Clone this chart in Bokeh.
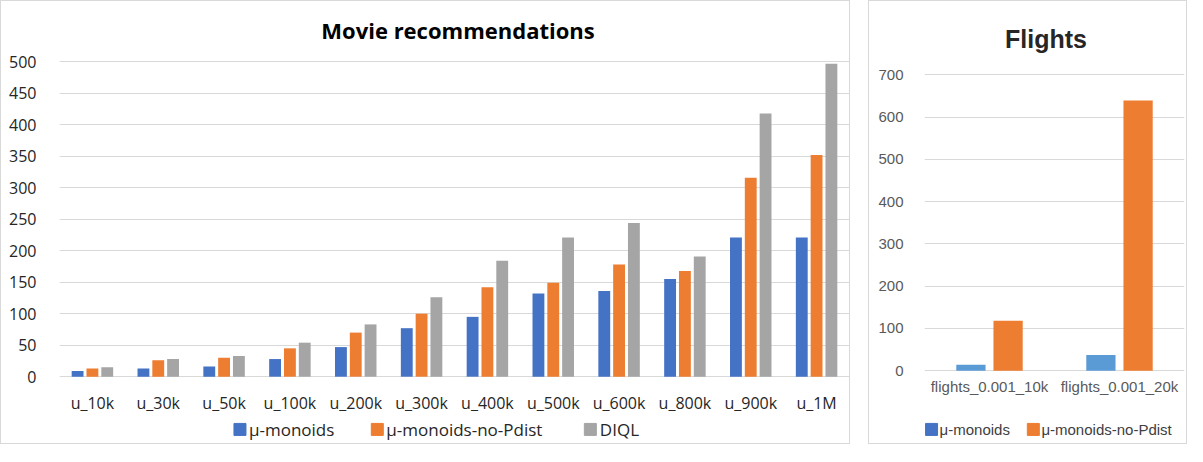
from bokeh.plotting import figure
from bokeh.models import FactorRange, Range1d, ColumnDataSource, Spacer
from bokeh.transform import dodge
from bokeh.layouts import row
from bokeh.core.properties import value
from bokeh.embed import file_html
from bokeh.resources import INLINE

# ---- data: Movie recommendations ----
movie_cats = ["u_10k", "u_30k", "u_50k", "u_100k", "u_200k", "u_300k",
              "u_400k", "u_500k", "u_600k", "u_800k", "u_900k", "u_1M"]
movie_mu = [9, 13, 16, 28, 47, 77, 95, 132, 136, 155, 221, 221]
movie_mu_nopdist = [13, 26, 30, 45, 70, 100, 142, 149, 178, 168, 316, 352]
movie_diql = [15, 28, 33, 54, 83, 126, 184, 221, 244, 191, 418, 497]
movie_series = ["μ-monoids", "μ-monoids-no-Pdist", "DIQL"]
movie_yticks = [0, 50, 100, 150, 200, 250, 300, 350, 400, 450, 500]

# ---- data: Flights ----
flight_cats = ["flights_0.001_10k", "flights_0.001_20k"]
flight_mu = [14, 37]
flight_mu_nopdist = [118, 639]
flight_series = ["μ-monoids", "μ-monoids-no-Pdist"]
flight_yticks = [0, 100, 200, 300, 400, 500, 600, 700]

BLUE = "#4472C4"
LBLUE = "#5B9BD5"
ORANGE = "#ED7D31"
GRAY = "#A5A5A5"
GRID = "#d9d9d9"
BORDER = {"border": "1px solid #d9d9d9"}

H = 444          # host height (border included)
CH = H - 2       # canvas height inside the border

# ================= Movie recommendations =================
W1 = 850
CW1 = W1 - 2
F1_L, F1_R = 58, 846               # frame left / right (canvas px)
Y1_TOP_PX, Y1_ZERO_PX = 60, 373.5  # canvas px of y=500 and y=0
per1 = (Y1_ZERO_PX - Y1_TOP_PX) / 500.0
def fy1(px):
    return (Y1_ZERO_PX - px) / per1
def fx1(px):
    return (px - F1_L) / ((F1_R - F1_L) / len(movie_cats))

p1 = figure(x_range=FactorRange(factors=movie_cats),
            y_range=Range1d(fy1(CH), fy1(0)),
            width=W1, height=H, title=None, x_axis_location=None,
            output_backend="svg", toolbar_location=None,
            min_border=0, min_border_left=F1_L, min_border_right=CW1 - F1_R)
p1.styles = BORDER
src1 = ColumnDataSource(dict(cat=movie_cats, mu=movie_mu, nop=movie_mu_nopdist, diql=movie_diql))
p1.vbar(x=dodge("cat", -0.225, range=p1.x_range), top="mu", width=0.18, source=src1,
        fill_color=BLUE, line_color=None)
p1.vbar(x=dodge("cat", 0.0, range=p1.x_range), top="nop", width=0.18, source=src1,
        fill_color=ORANGE, line_color=None)
p1.vbar(x=dodge("cat", 0.225, range=p1.x_range), top="diql", width=0.18, source=src1,
        fill_color=GRAY, line_color=None)

p1.outline_line_color = None
p1.xgrid.visible = False
p1.ygrid.grid_line_color = GRID
p1.yaxis.ticker = movie_yticks
p1.yaxis.axis_line_color = None
p1.yaxis.major_tick_line_color = None
p1.yaxis.minor_tick_line_color = None
p1.yaxis.major_label_standoff = 17
p1.yaxis.major_label_text_font = "Open Sans"
p1.yaxis.major_label_text_font_size = "16px"
p1.yaxis.major_label_text_color = "#262626"

# title
p1.text(x=[fx1(455.5)], y=[fy1(28)], text=["Movie recommendations"],
        text_font=value("Open Sans"), text_font_style="bold", text_font_size="22px",
        text_align="center", text_baseline="middle", text_color="#000000")
# category labels
p1.text(x=movie_cats, y=[fy1(399.5)] * len(movie_cats), text=movie_cats,
        text_font=value("Open Sans"), text_font_size="16px",
        text_align="center", text_baseline="middle", text_color="#262626")
# legend
leg1_y = fy1(426)
p1.scatter(x=[fx1(v) for v in (238, 375, 587.5)], y=[leg1_y] * 3, marker="square", size=12,
           color=[BLUE, ORANGE, GRAY])
p1.text(x=[fx1(v) for v in (247, 384, 597)], y=[leg1_y] * 3, text=movie_series,
        text_font=value("Open Sans"), text_font_size="17px",
        text_align="left", text_baseline="middle", text_color="#262626")

# ================= Flights =================
W2 = 319
CW2 = W2 - 2
F2_L, F2_R = 55, 313
Y2_TOP_PX, Y2_ZERO_PX = 73, 367.5   # canvas px of y=700 and y=0
per2 = (Y2_ZERO_PX - Y2_TOP_PX) / 700.0
def fy2(px):
    return (Y2_ZERO_PX - px) / per2
def fx2(px):
    return (px - F2_L) / ((F2_R - F2_L) / len(flight_cats))

p2 = figure(x_range=FactorRange(factors=flight_cats),
            y_range=Range1d(fy2(CH), fy2(0)),
            width=W2, height=H, title=None, x_axis_location=None,
            output_backend="svg", toolbar_location=None,
            min_border=0, min_border_left=F2_L, min_border_right=CW2 - F2_R)
p2.styles = BORDER
src2 = ColumnDataSource(dict(cat=flight_cats, mu=flight_mu, nop=flight_mu_nopdist))
p2.vbar(x=dodge("cat", -0.143, range=p2.x_range), top="mu", width=0.225, source=src2,
        fill_color=LBLUE, line_color=None)
p2.vbar(x=dodge("cat", 0.143, range=p2.x_range), top="nop", width=0.225, source=src2,
        fill_color=ORANGE, line_color=None)

p2.outline_line_color = None
p2.xgrid.visible = False
p2.ygrid.grid_line_color = GRID
p2.yaxis.ticker = flight_yticks
p2.yaxis.axis_line_color = None
p2.yaxis.major_tick_line_color = None
p2.yaxis.minor_tick_line_color = None
p2.yaxis.major_label_standoff = 15
p2.yaxis.major_label_text_font = "Liberation Sans"
p2.yaxis.major_label_text_font_size = "15px"
p2.yaxis.major_label_text_color = "#595959"

p2.text(x=[fx2(F2_L + 120.5)], y=[fy2(37)], text=["Flights"],
        text_font=value("Liberation Sans"), text_font_style="bold", text_font_size="25px",
        text_align="center", text_baseline="middle", text_color="#262626")
p2.text(x=flight_cats, y=[fy2(383.5)] * len(flight_cats), text=flight_cats,
        text_font=value("Liberation Sans"), text_font_size="15px",
        text_align="center", text_baseline="middle", text_color="#595959")
leg2_y = fy2(426)
p2.scatter(x=[fx2(v) for v in (F2_L + 7, F2_L + 108)], y=[leg2_y] * 2, marker="square", size=12,
           color=[BLUE, ORANGE])
p2.text(x=[fx2(v) for v in (F2_L + 15, F2_L + 116)], y=[leg2_y] * 2, text=flight_series,
        text_font=value("Liberation Sans"), text_font_size="15px",
        text_align="left", text_baseline="middle", text_color="#404040")

layout = row(p1, Spacer(width=18), p2)
open("out.html", "w").write(file_html(layout, INLINE))
